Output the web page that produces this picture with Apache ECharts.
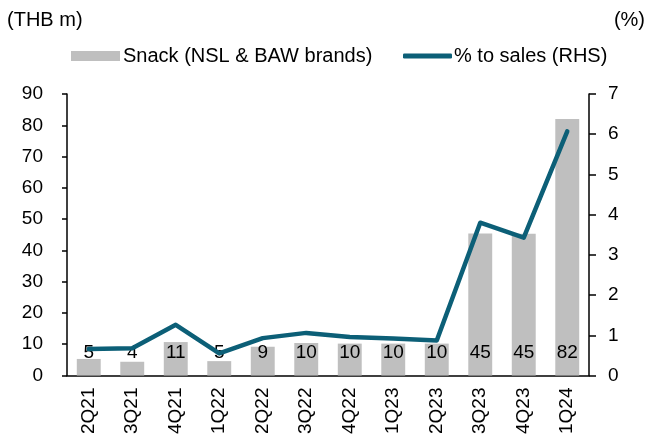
<!DOCTYPE html>
<html>
<head>
<meta charset="utf-8">
<script src="https://cdn.jsdelivr.net/npm/echarts@6/dist/echarts.min.js"></script>
<style>
    html,body{margin:0;padding:0;background:#fff;}
    #snack{width:649px;height:437px;}
</style>
</head>
<body>
<div id="snack"></div>
<script>
//*******************************    data   *******************************
var quarters = ['2Q21','3Q21','4Q21','1Q22','2Q22','3Q22','4Q22','1Q23','2Q23','3Q23','4Q23','1Q24'];

//snack revenue (THB m)
var snackRev = [5.3, 4.4, 10.7, 4.6, 9.2, 10.4, 10.2, 10.2, 10.2, 45.4, 45.3, 82.0];

//% to sales (RHS)
var pctSales = [0.66, 0.68, 1.26, 0.55, 0.93, 1.06, 0.96, 0.92, 0.87, 3.80, 3.43, 6.07];

var leftTicks = {min: 0, max: 90, interval: 10};
var rightTicks = {min: 0, max: 7, interval: 1};

//*******************************    chart   *******************************
var snackChart = echarts.init(document.getElementById('snack'));

var axisColor = '#000';

snackChart.setOption({
    animation: false,
    textStyle: {fontFamily: 'Liberation Sans', fontSize: 19, color: '#000'},
    grid: {left: 67, right: 60, top: 94, bottom: 61},
    graphic: [
        {type: 'text', left: 7, top: 10, style: {text: '(THB m)', font: '20px Liberation Sans', fill: '#000'}},
        {type: 'text', right: 4, top: 10, style: {text: '(%)', font: '20px Liberation Sans', fill: '#000'}}
    ],
    //two legends so each icon keeps its own height
    legend: [
        {
            left: 66, top: 41, itemWidth: 49, itemHeight: 10,
            textStyle: {fontFamily: 'Liberation Sans', fontSize: 20, color: '#000', padding: [0, 0, 0, -2]},
            data: [{name: 'Snack (NSL & BAW brands)', icon: 'rect'}]
        },
        {
            left: 398, top: 41, itemWidth: 49, itemHeight: 5,
            textStyle: {fontFamily: 'Liberation Sans', fontSize: 20, color: '#000', padding: [0, 0, 0, -3]},
            data: [{name: '% to sales (RHS)', icon: 'roundRect'}]
        }
    ],
    xAxis: {
        type: 'category',
        data: quarters,
        axisLine: {lineStyle: {color: axisColor, width: 1.5}},
        axisTick: {length: 5, lineStyle: {color: axisColor, width: 1.5}},
        axisLabel: {rotate: 90, margin: 12, fontSize: 19, color: '#000', fontFamily: 'Liberation Sans'}
    },
    yAxis: [
        {
            type: 'value',
            min: leftTicks.min, max: leftTicks.max, interval: leftTicks.interval,
            splitLine: {show: false},
            axisLine: {show: true, lineStyle: {color: axisColor, width: 1.5}},
            axisTick: {show: true, length: 5, lineStyle: {color: axisColor, width: 1.5}},
            axisLabel: {margin: 24, fontSize: 19, color: '#000', fontFamily: 'Liberation Sans'}
        },
        {
            type: 'value',
            position: 'right',
            min: rightTicks.min, max: rightTicks.max, interval: rightTicks.interval,
            splitLine: {show: false},
            axisLine: {show: true, lineStyle: {color: axisColor, width: 1.5}},
            axisTick: {show: true, length: 7, lineStyle: {color: axisColor, width: 1.5}},
            axisLabel: {margin: 19, fontSize: 19, color: '#000', fontFamily: 'Liberation Sans'}
        }
    ],
    series: [
        {
            name: 'Snack (NSL & BAW brands)',
            type: 'bar',
            data: snackRev,
            barWidth: '55%',
            itemStyle: {color: '#bfbfbf'},
            label: {
                show: true,
                position: 'insideBottom',
                distance: 13,
                fontSize: 19,
                fontFamily: 'Liberation Sans',
                color: '#000',
                formatter: function (p) { return Math.round(p.value); }
            },
            z: 2
        },
        {
            name: '% to sales (RHS)',
            type: 'line',
            yAxisIndex: 1,
            data: pctSales,
            symbol: 'none',
            lineStyle: {color: '#0c5f77', width: 4.5, cap: 'round', join: 'round'},
            itemStyle: {color: '#0c5f77'},
            z: 3
        }
    ]
});
</script>
</body>
</html>
